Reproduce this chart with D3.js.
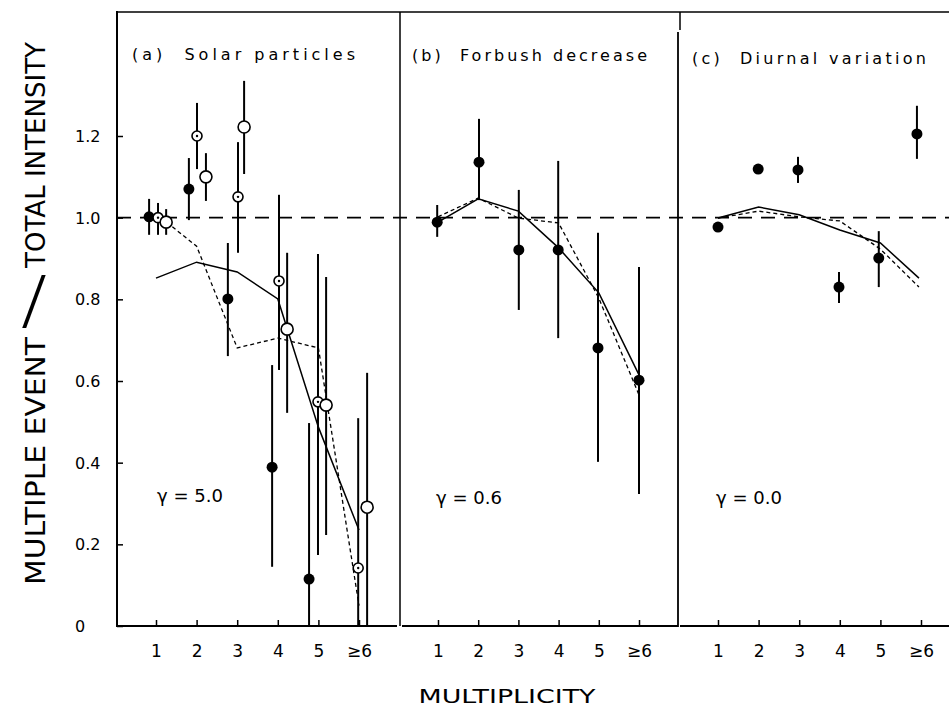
<!DOCTYPE html>
<html><head><meta charset="utf-8">
<script src="https://cdn.jsdelivr.net/npm/d3@7"></script>
<style>body{margin:0;background:#fff}svg{display:block}</style>
</head><body><svg id="c" width="949" height="707"></svg>
<script>
const multiplicity=[1,2,3,4,5,6];
const multiplicityLabels=["1","2","3","4","5","≥6"];
const yTickValues=[0,0.2,0.4,0.6,0.8,1.0,1.2];
const yTickLabels=["0","0.2","0.4","0.6","0.8","1.0","1.2"];
const panelTitles=["(a)  Solar particles","(b)  Forbush decrease","(c)  Diurnal variation"];
const gammaLabels=["γ = 5.0","γ = 0.6","γ = 0.0"];

// Panel (a) Solar particles
const aFilledX=[0.83,1.81,2.77,3.86,4.77];
const aFilledY=[1.002,1.070,0.801,0.389,0.115];
const aFilledLo=[0.958,0.994,0.661,0.145,0];
const aFilledHi=[1.046,1.146,0.938,0.639,0.497];
const aDotX=[1.05,2.01,3.02,4.03,4.99,5.98];
const aDotY=[1.0,1.2,1.051,0.845,0.549,0.142];
const aDotLo=[0.958,1.119,0.914,0.627,0.174,0];
const aDotHi=[1.036,1.281,1.185,1.056,0.911,0.509];
const aOpenX=[1.25,2.23,3.17,4.23,5.19,6.2];
const aOpenY=[0.989,1.10,1.222,0.727,0.541,0.291];
const aOpenLo=[0.958,1.041,1.107,0.522,0.223,0];
const aOpenHi=[1.021,1.158,1.335,0.914,0.855,0.62];
const aSolid=[0.852,0.891,0.867,0.801,0.487,0.235];
const aDashed=[1.01,0.93,0.681,0.705,0.681,0.05];
// Panel (b) Forbush decrease
const bFilledX=[0.98,2.02,3.01,3.99,4.98,6.0];
const bFilledY=[0.989,1.136,0.921,0.921,0.681,0.602];
const bFilledLo=[0.953,1.043,0.774,0.705,0.402,0.323];
const bFilledHi=[1.031,1.242,1.068,1.139,0.963,0.879];
const bSolid=[0.989,1.046,1.016,0.926,0.816,0.615];
const bDashed=[1.002,1.048,0.999,0.987,0.803,0.566];
// Panel (c) Diurnal variation
const cFilledX=[1,1.99,2.97,3.98,4.96,5.9];
const cFilledY=[0.977,1.119,1.117,0.830,0.901,1.205];
const cFilledLo=[null,null,1.085,0.791,0.830,1.144];
const cFilledHi=[null,null,1.149,0.867,0.967,1.274];
const cLineX=[1,2,3,4,5,5.95];
const cSolid=[0.999,1.026,1.007,0.970,0.938,0.852];
const cDashed=[0.999,1.016,1.002,0.992,0.923,0.830];

const svg=d3.select("#c");
svg.append("rect").attr("width",949).attr("height",707).attr("fill","#fff");
const FONT="DejaVu Sans, sans-serif";
const y=d3.scaleLinear([0,1.2],[626,136]);
const xA=d3.scaleLinear([1,6],[156,359]);
const xB=d3.scaleLinear([1,6],[438,639]);
const xC=d3.scaleLinear([1,6],[718,921]);

// frame
const frame=svg.append("g").attr("stroke","#000").attr("fill","none");
frame.append("line").attr("x1",117).attr("x2",949).attr("y1",12).attr("y2",12).attr("stroke-width",1.6);
frame.append("line").attr("x1",117).attr("x2",117).attr("y1",11).attr("y2",627).attr("stroke-width",2);
frame.append("line").attr("x1",400).attr("x2",400).attr("y1",12).attr("y2",626).attr("stroke-width",1.5);
frame.append("line").attr("x1",678).attr("x2",678).attr("y1",32).attr("y2",627).attr("stroke-width",1.8);
frame.append("line").attr("x1",680).attr("x2",680).attr("y1",12).attr("y2",30).attr("stroke-width",1.5);
frame.append("line").attr("x1",117).attr("x2",397).attr("y1",626).attr("y2",626).attr("stroke-width",1.8);
frame.append("line").attr("x1",402).attr("x2",678).attr("y1",626).attr("y2",626).attr("stroke-width",1.8);
frame.append("line").attr("x1",680).attr("x2",949).attr("y1",626).attr("y2",626).attr("stroke-width",1.8);

// y axis
const ya=svg.append("g").attr("transform","translate(117,0)")
  .call(d3.axisLeft(y).tickValues(yTickValues).tickFormat((d,i)=>yTickLabels[i]).tickSizeInner(-6).tickSizeOuter(0));
ya.select(".domain").remove();
ya.selectAll(".tick line").attr("stroke","#000").attr("stroke-width",1.5);
ya.selectAll(".tick text").attr("x",-42).attr("text-anchor","start").attr("dy","0.35em")
  .attr("font-family",FONT).attr("font-size",16).attr("fill","#000");

// x axes
[xA,xB,xC].forEach(sc=>{
  const g=svg.append("g").attr("transform","translate(0,626)")
    .call(d3.axisBottom(sc).tickValues(multiplicity).tickFormat((d,i)=>multiplicityLabels[i]).tickSizeInner(-6).tickSizeOuter(0).tickPadding(19));
  g.select(".domain").remove();
  g.selectAll(".tick line").attr("stroke","#000").attr("stroke-width",1.5);
  g.selectAll(".tick text").attr("font-family",FONT).attr("font-size",17).attr("fill","#000");
});

// reference dashed line at 1.0
svg.append("line").attr("x1",117).attr("x2",949).attr("y1",y(1)).attr("y2",y(1))
  .attr("stroke","#000").attr("stroke-width",1.6).attr("stroke-dasharray","14,9");

// model curves
function curve(sc,xs,ys,dashed){
  const line=d3.line().x((d,i)=>sc(xs[i])).y(d=>y(d));
  svg.append("path").datum(ys).attr("d",line).attr("fill","none").attr("stroke","#000")
    .attr("stroke-width",dashed?1.3:1.5).attr("stroke-dasharray",dashed?"4,3":null);
}
curve(xA,multiplicity,aSolid,false);
curve(xA,multiplicity,aDashed,true);
curve(xB,multiplicity,bSolid,false);
curve(xB,multiplicity,bDashed,true);
curve(xC,cLineX,cSolid,false);
curve(xC,cLineX,cDashed,true);

// error bars and markers
function series(sc,xs,ys,lo,hi,kind){
  const g=svg.append("g");
  xs.forEach((xv,i)=>{
    if(lo[i]!=null) g.append("line").attr("x1",sc(xv)).attr("x2",sc(xv)).attr("y1",y(lo[i])).attr("y2",y(hi[i]))
      .attr("stroke","#000").attr("stroke-width",2);
  });
  xs.forEach((xv,i)=>{
    const cx=sc(xv),cy=y(ys[i]);
    if(kind==="filled"){
      g.append("circle").attr("cx",cx).attr("cy",cy).attr("r",5.5).attr("fill","#000");
    } else if(kind==="dot"){
      g.append("circle").attr("cx",cx).attr("cy",cy).attr("r",5).attr("fill","#fff").attr("stroke","#000").attr("stroke-width",1.6);
      g.append("circle").attr("cx",cx).attr("cy",cy).attr("r",1.2).attr("fill","#000");
    } else {
      g.append("circle").attr("cx",cx).attr("cy",cy).attr("r",6).attr("fill","#fff").attr("stroke","#000").attr("stroke-width",1.6);
    }
  });
}
series(xA,aFilledX,aFilledY,aFilledLo,aFilledHi,"filled");
series(xA,aDotX,aDotY,aDotLo,aDotHi,"dot");
series(xA,aOpenX,aOpenY,aOpenLo,aOpenHi,"open");
series(xB,bFilledX,bFilledY,bFilledLo,bFilledHi,"filled");
series(xC,cFilledX,cFilledY,cFilledLo,cFilledHi,"filled");

// panel titles
const titlePos=[[132,60,223],[412,61,235],[692,64,234]];
panelTitles.forEach((t,i)=>{
  svg.append("text").attr("x",titlePos[i][0]).attr("y",titlePos[i][1]).text(t)
    .attr("font-family",FONT).attr("font-size",16).attr("fill","#000")
    .attr("textLength",titlePos[i][2]).attr("lengthAdjust","spacing").style("white-space","pre");
});
// gamma labels
const gammaPos=[[157,502],[436,504],[716,504]];
gammaLabels.forEach((t,i)=>{
  svg.append("text").attr("x",gammaPos[i][0]).attr("y",gammaPos[i][1]).text(t)
    .attr("font-family",FONT).attr("font-size",18).attr("fill","#000")
    .attr("textLength",66).attr("lengthAdjust","spacingAndGlyphs");
});

// axis titles
svg.append("text").attr("x",507).attr("y",703).attr("text-anchor","middle").text("MULTIPLICITY")
  .attr("font-family",FONT).attr("font-size",20).attr("fill","#000")
  .attr("textLength",177).attr("lengthAdjust","spacingAndGlyphs");
const yt=svg.append("g").attr("font-family",FONT).attr("font-size",27).attr("fill","#000");
yt.append("text").attr("transform","translate(45,585) rotate(-90)").text("MULTIPLE EVENT")
  .attr("textLength",248).attr("lengthAdjust","spacingAndGlyphs");
yt.append("text").attr("transform","translate(34,300) scale(1.2,1)").attr("text-anchor","middle")
  .attr("dy","0.35em").attr("font-family","DejaVu Sans ExtraLight, DejaVu Sans, sans-serif")
  .attr("font-weight",200).attr("font-size",64).text("/");
yt.append("text").attr("transform","translate(45,268) rotate(-90)").text("TOTAL INTENSITY")
  .attr("textLength",226).attr("lengthAdjust","spacingAndGlyphs");
</script></body></html>
